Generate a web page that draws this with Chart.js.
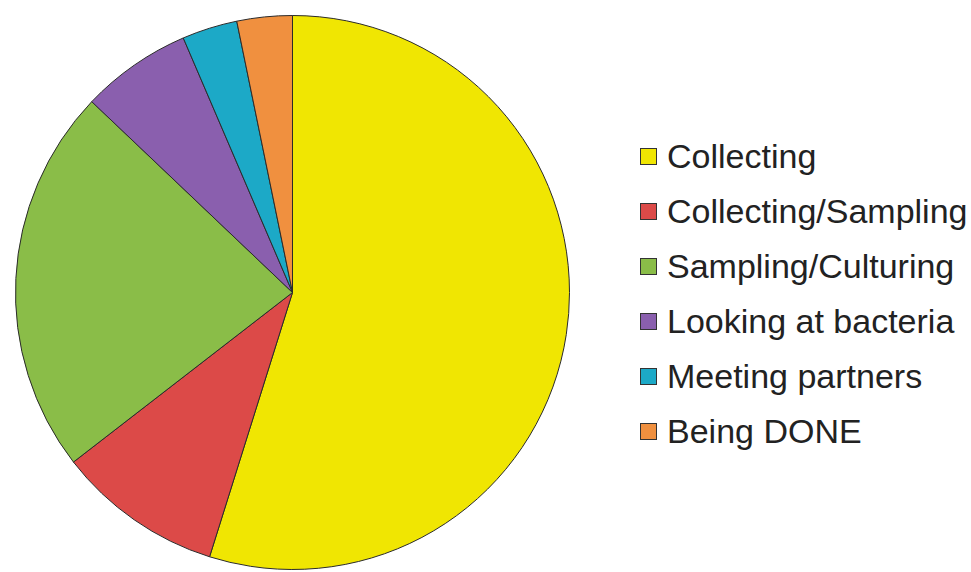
<!DOCTYPE html>
<html>
<head>
<meta charset="utf-8">
<script src="https://cdn.jsdelivr.net/npm/chart.js@4.4.1/dist/chart.umd.min.js"></script>
<style>
    html, body { margin: 0; padding: 0; background: #fff; overflow: hidden; }
    #wrap { position: absolute; left: 0; top: 0; width: 585px; height: 585px; }
    #legend { position: absolute; left: 640px; top: 129px; margin: 0; padding: 0; list-style: none;
              font-family: "Liberation Sans", Arial, sans-serif; font-size: 34px; color: #222; }
    #legend li { display: flex; align-items: center; height: 55px; }
    #legend .box { width: 15px; height: 15px; border: 1px solid #333; margin-right: 10px; flex: none; }
    #legend span.txt { white-space: nowrap; }
</style>
</head>
<body>
<div id="wrap"><canvas id="pieChart"></canvas></div>
<ul id="legend"></ul>
<script>
// ---------- DATA ----------
const categories = ["Collecting", "Collecting/Sampling", "Sampling/Culturing",
                    "Looking at bacteria", "Meeting partners", "Being DONE"];
const counts = [17, 3, 7, 2, 1, 1];
const sliceColors = ["#f0e602", "#dc4a48", "#8abd48", "#8a5fae", "#1ca9c7", "#f0903f"];

// ---------- PIE ----------
new Chart(document.getElementById("pieChart"), {
    type: "pie",
    data: {
        labels: categories,
        datasets: [{
            data: counts,
            backgroundColor: sliceColors,
            borderColor: "#2a2a2a",
            borderWidth: 1
        }]
    },
    options: {
        responsive: true,
        maintainAspectRatio: false,
        animation: false,
        layout: { padding: 15 },
        plugins: {
            legend: { display: false },
            tooltip: { enabled: false }
        }
    }
});

// ---------- LEGEND ----------
const legend = document.getElementById("legend");
categories.forEach(function (name, i) {
    const li = document.createElement("li");
    const box = document.createElement("span");
    box.className = "box";
    box.style.background = sliceColors[i];
    const txt = document.createElement("span");
    txt.className = "txt";
    txt.textContent = name;
    li.appendChild(box);
    li.appendChild(txt);
    legend.appendChild(li);
});
</script>
</body>
</html>
